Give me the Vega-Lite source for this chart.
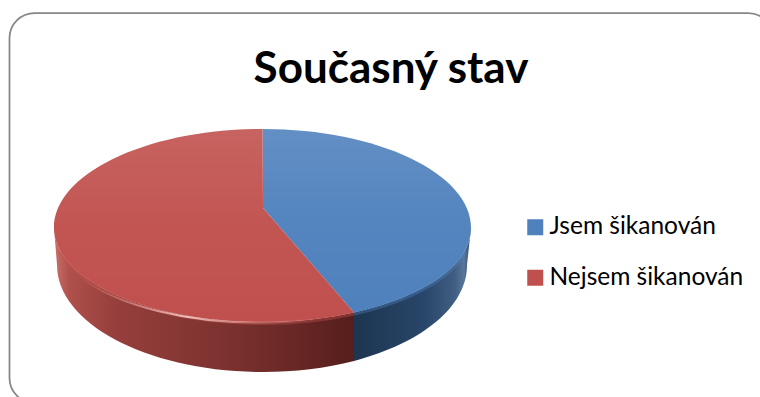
{
  "$schema": "https://vega.github.io/schema/vega-lite/v6.json",
  "width": 760,
  "height": 397,
  "autosize": "none",
  "padding": 0,
  "background": "white",
  "config": {"view": {"stroke": null}},
  "title": {"text": "Současný stav", "font": "Lato", "fontWeight": "bold", "fontSize": 44, "color": "#000000", "anchor": "middle", "dx": 11, "dy": 92, "offset": 0},
  "data": {"values": [
    {"label": "Jsem šikanován", "value": 45},
    {"label": "Nejsem šikanován", "value": 55}
  ]},
  "layer": [
    {
      "data": {"values": [{"part": "frame"}]},
      "mark": {"type": "point", "filled": false, "opacity": 1, "size": 4, "stroke": "#868686", "strokeWidth": 1.75, "shape": "M -345.5 204.5 A 25 25 0 0 1 -370.5 179.5 L -370.5 -160.5 A 25 25 0 0 1 -345.5 -185.5 L 368 -185.5 A 25 25 0 0 1 393 -160.5"},
      "encoding": {}
    },
    {
      "mark": {"type": "point", "filled": true, "opacity": 1, "size": 1, "shape": "square", "strokeWidth": 0},
      "encoding": {
        "color": {"field": "label", "type": "nominal", "scale": {"domain": ["Jsem šikanován", "Nejsem šikanován"], "range": ["#4f81bd", "#c0504d"]},
          "legend": {"title": null, "orient": "none", "legendX": 523, "legendY": 215, "symbolType": "square", "symbolSize": 256, "symbolStrokeWidth": 0, "symbolOpacity": 1, "labelFont": "Lato", "labelFontSize": 24.5, "labelColor": "#000000", "labelOffset": 2, "rowPadding": 25.5, "labelLimit": 240}}
      }
    },
    {
      "transform": [{"filter": "datum.label === 'Nejsem šikanován'"}],
      "mark": {"type": "point", "filled": true, "opacity": 1, "size": 4, "strokeWidth": 0,
        "shape": "M -326 29.5 A 208.5 94 0 0 0 -117.5 123.5 A 208.5 94 0 0 0 -26 113.9 L -26 162.5 A 206 107 0 0 1 -117.5 173.5 A 206 107 0 0 1 -323 66.5 Z",
        "fill": {"gradient": "linear", "x1": 0, "y1": 0, "x2": 1, "y2": 0, "stops": [
          {"offset": 0, "color": "#c9716c"}, {"offset": 0.05, "color": "#b0504c"}, {"offset": 0.2, "color": "#963f3c"}, {"offset": 0.6, "color": "#7a312e"}, {"offset": 1, "color": "#561e1c"}
        ]}
      },
      "encoding": {}
    },
    {
      "transform": [{"filter": "datum.label === 'Jsem šikanován'"}],
      "mark": {"type": "point", "filled": true, "opacity": 1, "size": 4, "strokeWidth": 0,
        "shape": "M -26 113.9 A 208.5 94 0 0 0 91 29.5 L 87 66.5 A 206 107 0 0 1 -26 162.5 Z",
        "fill": {"gradient": "linear", "x1": 0, "y1": 0, "x2": 1, "y2": 0, "stops": [
          {"offset": 0, "color": "#1d3550"}, {"offset": 0.6, "color": "#28466a"}, {"offset": 0.86, "color": "#3f5e82"}, {"offset": 0.94, "color": "#587799"}, {"offset": 1, "color": "#2f4a6a"}
        ]}
      },
      "encoding": {}
    },
    {
      "mark": {"type": "point", "filled": false, "opacity": 0.4, "size": 4, "strokeWidth": 4},
      "encoding": {
        "shape": {"field": "label", "type": "nominal", "legend": null, "scale": {"domain": ["Jsem šikanován", "Nejsem šikanován"], "range": [
          "M -26 115 A 208.5 94 0 0 0 85 53.5",
          "M -320 53.5 A 208.5 94 0 0 0 -117.5 124.5 A 208.5 94 0 0 0 -26 115"
        ]}},
        "color": {"field": "label", "type": "nominal", "legend": null, "scale": {"domain": ["Jsem šikanován", "Nejsem šikanován"], "range": ["#4f81bd", "#c0504d"]}}
      }
    },
    {
      "mark": {"type": "point", "filled": true, "opacity": 1, "size": 4, "strokeWidth": 0},
      "encoding": {
        "shape": {"field": "label", "type": "nominal", "legend": null, "scale": {"domain": ["Jsem šikanován", "Nejsem šikanován"], "range": [
          "M -117 9.5 L -117.5 -69.5 A 208.5 99 0 0 1 91 29.5 A 208.5 94 0 0 1 -26 113.9 Z",
          "M -117 9.5 L -26 113.9 A 208.5 94 0 0 1 -117.5 123.5 A 208.5 94 0 0 1 -326 29.5 A 208.5 99 0 0 1 -117.5 -69.5 Z"
        ]}},
        "color": {"field": "label", "type": "nominal", "legend": null, "scale": {"domain": ["Jsem šikanován", "Nejsem šikanován"], "range": ["#4f81bd", "#c0504d"]}},
        "tooltip": {"field": "value", "type": "quantitative"}
      }
    },
    {
      "mark": {"type": "point", "filled": true, "opacity": 1, "size": 4, "strokeWidth": 0,
        "fill": {"gradient": "linear", "x1": 0, "y1": 0, "x2": 0, "y2": 1, "stops": [
          {"offset": 0, "color": "rgba(255,255,255,0.11)"}, {"offset": 0.5, "color": "rgba(255,255,255,0.03)"}, {"offset": 1, "color": "rgba(255,255,255,0)"}
        ]}
      },
      "encoding": {
        "shape": {"field": "label", "type": "nominal", "legend": null, "scale": {"domain": ["Jsem šikanován", "Nejsem šikanován"], "range": [
          "M -117 9.5 L -117.5 -69.5 A 208.5 99 0 0 1 91 29.5 A 208.5 94 0 0 1 -26 113.9 Z",
          "M -117 9.5 L -26 113.9 A 208.5 94 0 0 1 -117.5 123.5 A 208.5 94 0 0 1 -326 29.5 A 208.5 99 0 0 1 -117.5 -69.5 Z"
        ]}}
      }
    },
    {
      "transform": [{"filter": "datum.label === 'Nejsem šikanován'"}],
      "mark": {"type": "point", "filled": false, "opacity": 1, "size": 4, "strokeWidth": 2,
        "shape": "M -300 79 A 208.5 94 0 0 0 -117.5 124 A 208.5 94 0 0 0 -60 120",
        "stroke": {"gradient": "linear", "x1": 0, "y1": 0, "x2": 1, "y2": 0, "stops": [
          {"offset": 0, "color": "rgba(240,170,165,0)"}, {"offset": 0.45, "color": "rgba(250,205,200,0.9)"}, {"offset": 0.7, "color": "rgba(240,170,165,0.5)"}, {"offset": 1, "color": "rgba(240,170,165,0)"}
        ]}
      },
      "encoding": {}
    }
  ],
  "resolve": {"scale": {"shape": "independent", "color": "independent"}}
}
